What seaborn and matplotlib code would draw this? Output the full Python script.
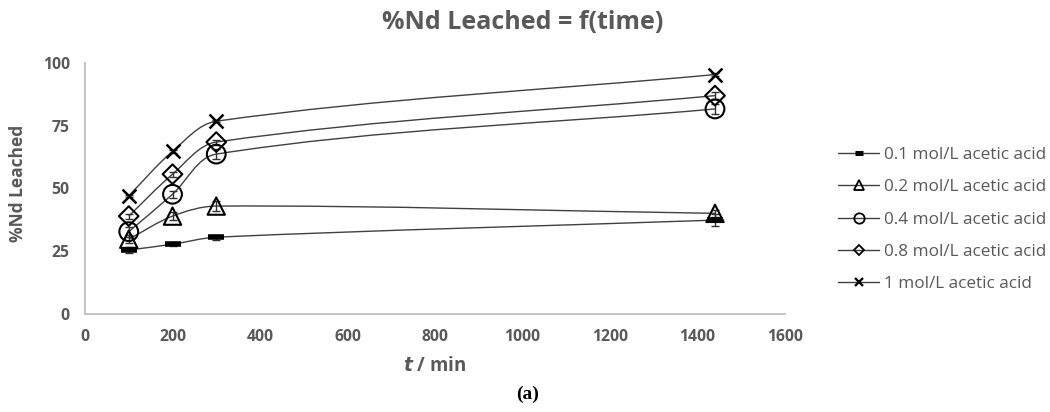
import numpy as np
import pandas as pd
import matplotlib
matplotlib.use("Agg")
import matplotlib.pyplot as plt
import seaborn as sns
from matplotlib.path import Path
from matplotlib.patches import PathPatch
from matplotlib.lines import Line2D

# ---------------- data ----------------
time_min = [100, 200, 300, 1440]
nd_01 = [25.5, 27.8, 30.6, 37.4]
nd_02 = [29.8, 39.0, 43.0, 40.1]
nd_04 = [32.8, 47.7, 63.7, 81.7]
nd_08 = [39.0, 55.7, 68.5, 87.0]
nd_1 = [47.1, 64.8, 76.8, 95.4]
err_01 = [1.0, 0.8, 1.0, 2.3]
err_02 = [1.5, 1.5, 2.0, 1.5]
err_04 = [2.0, 1.5, 2.0, 2.0]
err_08 = [1.0, 1.0, 1.0, 1.5]
err_1 = [0.5, 0.5, 0.5, 0.5]
labels = ["0.1 mol/L acetic acid", "0.2 mol/L acetic acid", "0.4 mol/L acetic acid",
          "0.8 mol/L acetic acid", "1 mol/L acetic acid"]
x_ticks = [0, 200, 400, 600, 800, 1000, 1200, 1400, 1600]
y_ticks = [0, 25, 50, 75, 100]

series = [nd_01, nd_02, nd_04, nd_08, nd_1]
errors = [err_01, err_02, err_04, err_08, err_1]

# ---------------- style ----------------
sns.set_style("white")
plt.rcParams["font.family"] = ["Open Sans", "DejaVu Sans"]
GRAY = "#595959"
AX_GRAY = "#BFBFBF"
W, H = 1050, 412

fig = plt.figure(figsize=(10.5, 4.12), dpi=100)
ax = fig.add_axes([85 / W, 1 - 314 / H, (785 - 85) / W, (314 - 63) / H])
ax.set_xlim(0, 1600)
ax.set_ylim(0, 100)

mstyle = [
    dict(marker="_", size=11, open=False, lw=4.0),
    dict(marker="^", size=12.5, open=True, lw=1.5),
    dict(marker="o", size=13.5, open=True, lw=1.5),
    dict(marker="D", size=10, open=True, lw=1.5),
    dict(marker="x", size=10, open=False, lw=1.8),
]


def smooth_path(xs, ys):
    pts = ax.transData.transform(np.column_stack([xs, ys]))
    n = len(pts)
    verts = [pts[0]]
    codes = [Path.MOVETO]
    tang = []
    for i in range(n):
        d = pts[min(i + 1, n - 1)] - pts[max(i - 1, 0)]
        tang.append(d / np.linalg.norm(d))
    for i in range(n - 1):
        L = np.linalg.norm(pts[i + 1] - pts[i])
        verts += [pts[i] + tang[i] * L * 0.33, pts[i + 1] - tang[i + 1] * L * 0.33, pts[i + 1]]
        codes += [Path.CURVE4] * 3
    return Path(ax.transData.inverted().transform(np.array(verts)), codes)


for ys, errs, ms in zip(series, errors, mstyle):
    df = pd.DataFrame({"t": time_min, "nd": ys})
    ax.add_patch(PathPatch(smooth_path(time_min, ys), facecolor="none",
                           edgecolor="#404040", lw=1.0, zorder=2))
    ax.errorbar(time_min, ys, yerr=errs, fmt="none", ecolor="#303030",
                elinewidth=1.0, capsize=3, capthick=1.0, zorder=3, clip_on=False)
    if ms["open"]:
        sns.scatterplot(data=df, x="t", y="nd", ax=ax, marker=ms["marker"],
                        s=ms["size"] ** 2, facecolor="none", edgecolor="black",
                        linewidth=ms["lw"], zorder=4, clip_on=False, legend=False)
    else:
        sns.scatterplot(data=df, x="t", y="nd", ax=ax, marker=ms["marker"],
                        s=ms["size"] ** 2, color="black",
                        linewidth=ms["lw"], zorder=4, clip_on=False, legend=False)

for s in ["top", "right"]:
    ax.spines[s].set_visible(False)
for s in ["left", "bottom"]:
    ax.spines[s].set_color(AX_GRAY)
    ax.spines[s].set_linewidth(1.3)
ax.set_xticks(x_ticks)
ax.set_yticks(y_ticks)
ax.set_xlabel("")
ax.set_ylabel("")

fig.canvas.draw()
R = fig.canvas.get_renderer()


def text_width(s, size, **kw):
    t = fig.text(0, 0, s, fontsize=size, **kw)
    w = t.get_window_extent(R).width
    t.remove()
    return w


def fit_size(s, target_px, **kw):
    return 10 * target_px / text_width(s, 10, **kw)


tick_size = fit_size("200", 27, fontweight="bold")
ax.tick_params(axis="both", direction="out", length=5, width=1.3, color=AX_GRAY,
               labelcolor=GRAY, labelsize=tick_size)
ax.tick_params(axis="x", pad=6)
ax.tick_params(axis="y", pad=6)
for lbl in ax.get_xticklabels() + ax.get_yticklabels():
    lbl.set_fontweight("bold")

title_size = fit_size("%Nd Leached = f(time)", 280, fontweight="bold")
fig.text(523 / W, 1 - 22.5 / H, "%Nd Leached = f(time)", ha="center", va="center",
         fontsize=title_size, fontweight="bold", color=GRAY)
ylab_size = fit_size("%Nd Leached", 117, fontweight="bold")
fig.text(18.5 / W, 1 - 183 / H, "%Nd Leached", rotation=90, ha="center", va="center",
         fontsize=ylab_size, fontweight="bold", color=GRAY)
xl = r"$\bfit{t}$ / min"
xlab_size = fit_size(xl, 64, fontweight="bold")
fig.text(435 / W, 1 - 366 / H, xl, ha="center", va="center",
         fontsize=xlab_size, fontweight="bold", color=GRAY)
fig.text(528 / W, 1 - 394 / H, "(a)", ha="center", va="center", fontsize=14,
         fontweight="bold", color="black", family=["Liberation Serif", "DejaVu Serif"])

# legend
leg_size = fit_size(labels[0], 162)
fs_px = leg_size * 100 / 72
handles = []
for ms in mstyle:
    handles.append(Line2D([0], [0], color="#404040", lw=1.0, marker=ms["marker"],
                          markersize=ms["size"] * 0.55,
                          markerfacecolor="none" if ms["open"] else "black",
                          markeredgecolor="black",
                          markeredgewidth=(ms["lw"] * 0.9) if not ms["open"] else 1.3))


def make_legend(spacing):
    return fig.legend(handles, labels, loc="center left",
                      bbox_to_anchor=(838 / W, 1 - 219.5 / H),
                      frameon=False, fontsize=leg_size, handlelength=41 / fs_px,
                      labelspacing=spacing, handletextpad=5 / fs_px,
                      borderaxespad=0, borderpad=0)


spacing = 0.8
leg = make_legend(spacing)
fig.canvas.draw()
ys_txt = [t.get_window_extent(R).y0 for t in leg.get_texts()]
actual = (ys_txt[0] - ys_txt[-1]) / 4
spacing += (32.2 - actual) / fs_px
leg.remove()
leg = make_legend(spacing)
for t in leg.get_texts():
    t.set_color(GRAY)

fig.savefig("out.png", dpi=100)
